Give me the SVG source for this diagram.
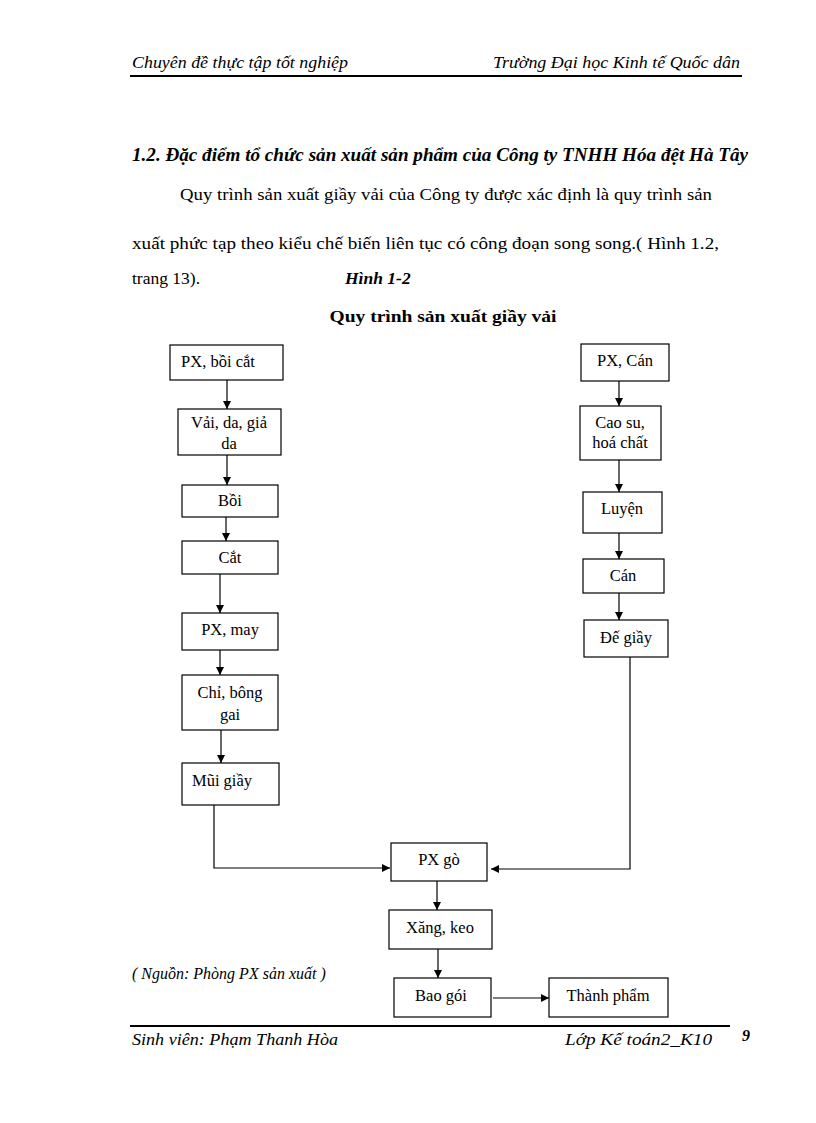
<svg xmlns="http://www.w3.org/2000/svg" width="816" height="1123" viewBox="0 0 816 1123">
<defs>
<style>
text{font-family:'Liberation Serif','Times New Roman','DejaVu Serif',serif;fill:#000}
.hd{font-style:italic;font-size:16px}
.bi{font-style:italic;font-weight:bold}
.body{font-size:17.5px}
.tt{font-weight:bold;font-size:17.5px}
.box{fill:#fff;stroke:#000;stroke-width:1.2}
.lbl{font-size:16.5px;text-anchor:middle}
.ln{fill:none;stroke:#000;stroke-width:1.2}
</style>
<marker id="ah" viewBox="0 0 10 10" refX="10" refY="5" markerWidth="8" markerHeight="8" markerUnits="userSpaceOnUse" orient="auto">
<path d="M0,0 L10,5 L0,10 Z" fill="#000"/>
</marker>
</defs>
<rect width="816" height="1123" fill="#fff"/>

<g id="header">
<text class="hd" x="132" y="68" textLength="216" lengthAdjust="spacingAndGlyphs">Chuyên  đề thực tập tốt nghiệp</text>
<text class="hd" x="740" y="68" text-anchor="end" textLength="247" lengthAdjust="spacingAndGlyphs">Trường Đại học Kinh tế Quốc dân</text>
<line x1="130" y1="76" x2="742" y2="76" stroke="#000" stroke-width="2"/>
</g>

<g id="intro">
<text class="bi" x="132" y="161" font-size="18" textLength="616" lengthAdjust="spacingAndGlyphs">1.2. Đặc điểm tổ chức sản xuất sản phẩm của Công ty TNHH Hóa đệt Hà Tây</text>
<text class="body" x="180" y="200" textLength="532" lengthAdjust="spacingAndGlyphs">Quy trình sản xuất giầy vải của Công ty được xác định là quy trình sản</text>
<text class="body" x="132" y="249" textLength="587" lengthAdjust="spacingAndGlyphs">xuất phức tạp theo kiểu chế biến liên tục có công đoạn song song.( Hình 1.2,</text>
<text class="body" x="132" y="284">trang 13).</text>
<text class="bi" x="345" y="284" font-size="17.5">Hình 1-2</text>
<text class="tt" x="443" y="322" text-anchor="middle" textLength="227" lengthAdjust="spacingAndGlyphs">Quy trình sản xuất giầy vải</text>
</g>

<g id="connectors">
<line class="ln" x1="227" y1="380" x2="227" y2="409" marker-end="url(#ah)"/>
<line class="ln" x1="227" y1="455" x2="227" y2="485" marker-end="url(#ah)"/>
<line class="ln" x1="226" y1="517" x2="226" y2="541" marker-end="url(#ah)"/>
<line class="ln" x1="220" y1="574" x2="220" y2="613" marker-end="url(#ah)"/>
<line class="ln" x1="220" y1="650" x2="220" y2="675" marker-end="url(#ah)"/>
<line class="ln" x1="221" y1="730" x2="221" y2="763" marker-end="url(#ah)"/>
<polyline class="ln" points="214,805 214,868 390,868" marker-end="url(#ah)"/>
<line class="ln" x1="619" y1="381" x2="619" y2="406" marker-end="url(#ah)"/>
<line class="ln" x1="619" y1="460" x2="619" y2="492" marker-end="url(#ah)"/>
<line class="ln" x1="619" y1="533" x2="619" y2="559" marker-end="url(#ah)"/>
<line class="ln" x1="619" y1="593" x2="619" y2="620" marker-end="url(#ah)"/>
<polyline class="ln" points="630,657 630,869 491,869" marker-end="url(#ah)"/>
<line class="ln" x1="437" y1="881" x2="437" y2="910" marker-end="url(#ah)"/>
<line class="ln" x1="438" y1="949" x2="438" y2="978" marker-end="url(#ah)"/>
<line class="ln" x1="493" y1="998" x2="549" y2="998" marker-end="url(#ah)"/>
</g>

<g id="n-px-boi-cat"><rect class="box" x="170" y="345" width="113" height="35"/><text class="lbl" x="218" y="367">PX, bồi cắt</text></g>
<g id="n-vai-da"><rect class="box" x="178" y="409" width="103" height="46"/><text class="lbl" x="229" y="428">Vải,  da,  giả</text><text class="lbl" x="229" y="449">da</text></g>
<g id="n-boi"><rect class="box" x="182" y="485" width="96" height="32"/><text class="lbl" x="230" y="506">Bồi</text></g>
<g id="n-cat"><rect class="box" x="182" y="541" width="96" height="33"/><text class="lbl" x="230" y="563">Cắt</text></g>
<g id="n-px-may"><rect class="box" x="182" y="613" width="96" height="37"/><text class="lbl" x="230" y="635">PX, may</text></g>
<g id="n-chi"><rect class="box" x="182" y="675" width="96" height="55"/><text class="lbl" x="230" y="698">Chỉ, bông</text><text class="lbl" x="230" y="720">gai</text></g>
<g id="n-mui"><rect class="box" x="182" y="763" width="97" height="42"/><text class="lbl" x="222" y="786">Mũi giầy</text></g>

<g id="n-px-can"><rect class="box" x="581" y="344" width="88" height="37"/><text class="lbl" x="625" y="366">PX, Cán</text></g>
<g id="n-cao-su"><rect class="box" x="580" y="406" width="81" height="54"/><text class="lbl" x="620" y="428">Cao su,</text><text class="lbl" x="620" y="448">hoá chất</text></g>
<g id="n-luyen"><rect class="box" x="583" y="492" width="79" height="41"/><text class="lbl" x="622" y="514">Luyện</text></g>
<g id="n-can"><rect class="box" x="583" y="559" width="81" height="34"/><text class="lbl" x="623" y="581">Cán</text></g>
<g id="n-de"><rect class="box" x="584" y="620" width="84" height="37"/><text class="lbl" x="626" y="643">Đế giầy</text></g>

<g id="n-px-go"><rect class="box" x="391" y="843" width="96" height="38"/><text class="lbl" x="439" y="865">PX gò</text></g>
<g id="n-xang"><rect class="box" x="389" y="910" width="103" height="39"/><text class="lbl" x="440" y="933">Xăng,  keo</text></g>
<g id="n-bao-goi"><rect class="box" x="394" y="978" width="97" height="39"/><text class="lbl" x="441" y="1001">Bao gói</text></g>
<g id="n-thanh-pham"><rect class="box" x="549" y="978" width="119" height="39"/><text class="lbl" x="608" y="1001">Thành  phẩm</text></g>

<text class="hd" x="132" y="979" font-size="14">( Nguồn: Phòng PX sản xuất )</text>

<g id="footer">
<line x1="130" y1="1026" x2="730" y2="1026" stroke="#000" stroke-width="2"/>
<text class="hd" x="132" y="1045" textLength="206" lengthAdjust="spacingAndGlyphs">Sinh viên: Phạm  Thanh  Hòa</text>
<text class="hd" x="712" y="1045" text-anchor="end" textLength="147" lengthAdjust="spacingAndGlyphs">Lớp Kế toán2_K10</text>
<text class="bi" x="742" y="1041" font-size="16">9</text>
</g>
</svg>
